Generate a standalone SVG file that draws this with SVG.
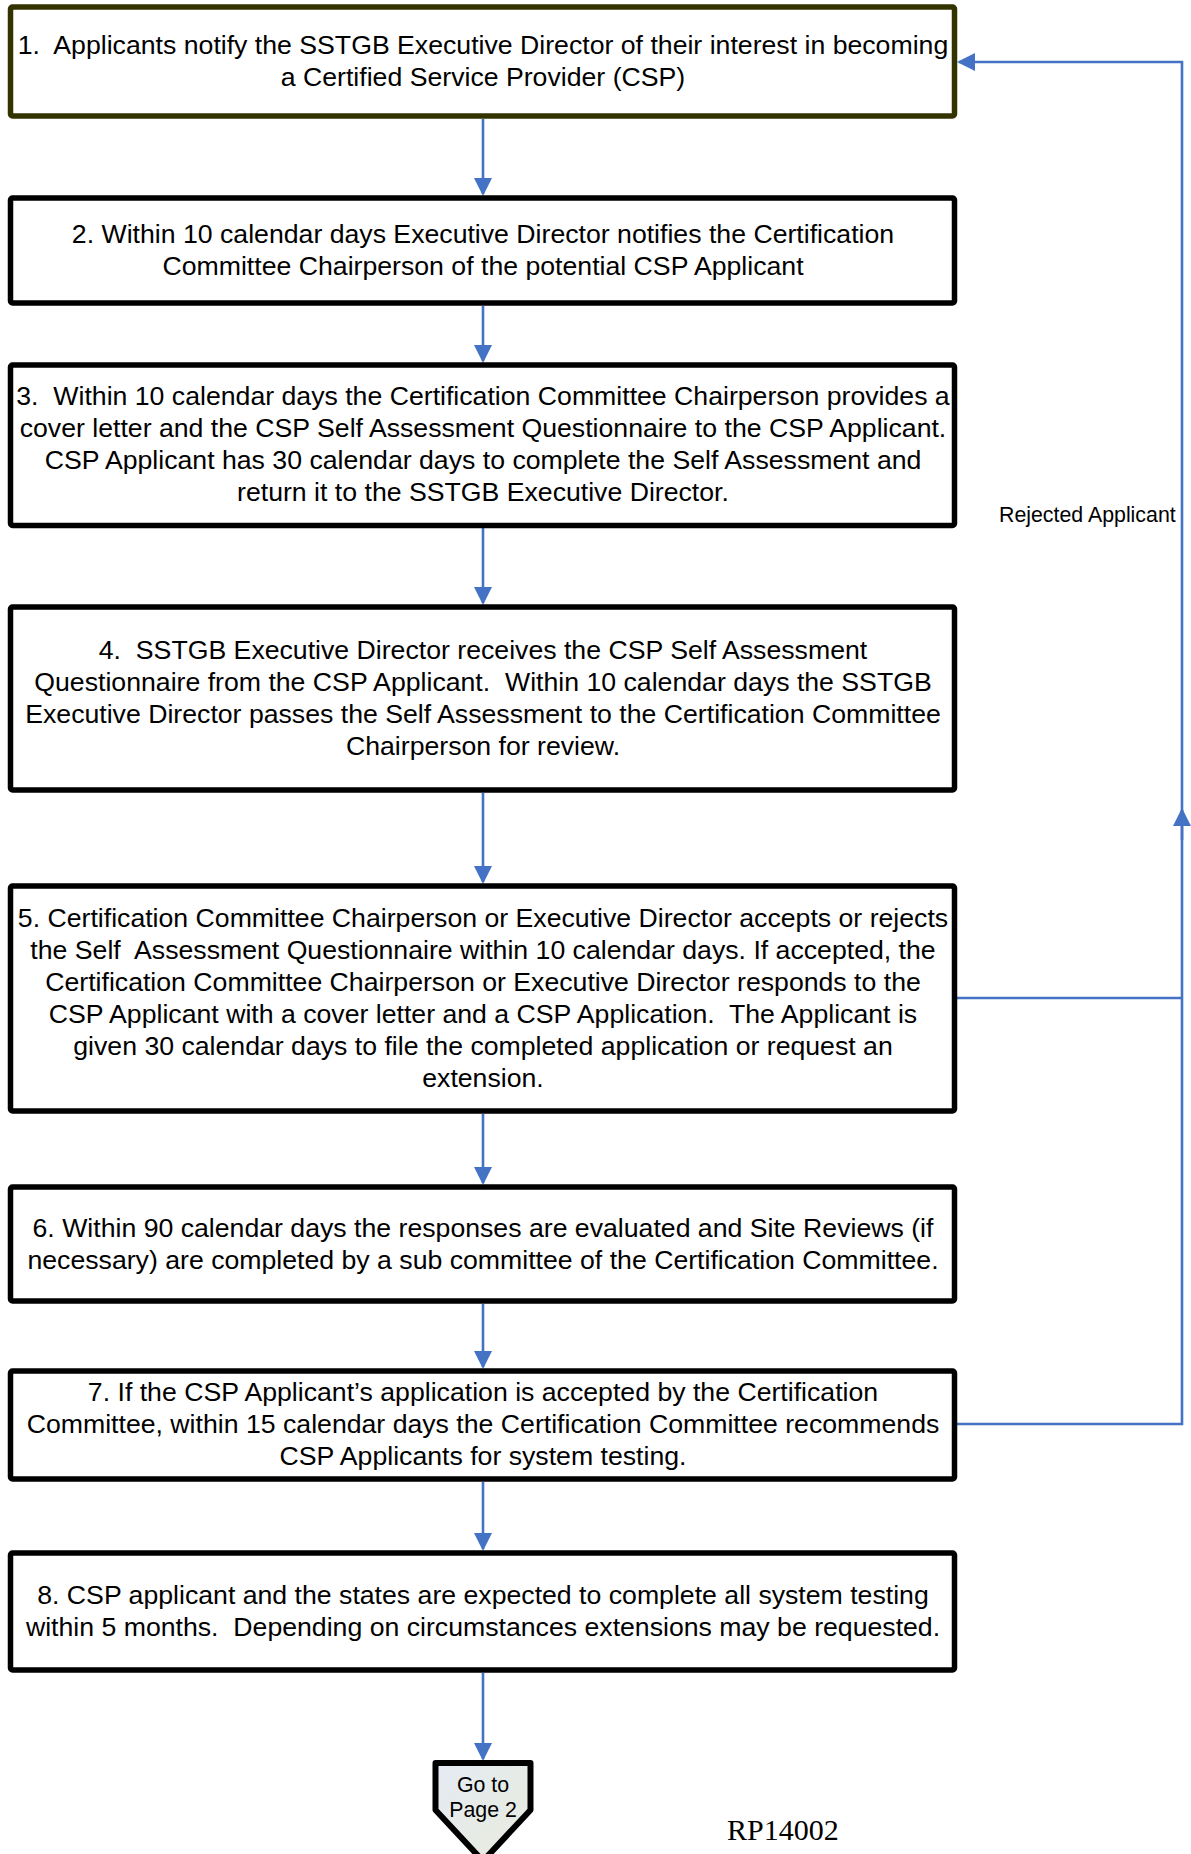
<svg xmlns="http://www.w3.org/2000/svg" width="1191" height="1854" viewBox="0 0 1191 1854">
<style>
  .box { fill: #ffffff; stroke: #000000; stroke-width: 5.5; stroke-linejoin: round; }
  .box1 { stroke: #333300; }
  .t { font-family: "Liberation Sans", Arial, sans-serif; font-size: 26.67px; fill: #000000; text-anchor: middle; white-space: pre; }
  .lbl { font-family: "Liberation Sans", Arial, sans-serif; font-size: 21.33px; fill: #000000; white-space: pre; }
  .conn { fill: none; stroke: #4472C4; stroke-width: 2.6; }
  .rp { font-family: "Liberation Serif", "Times New Roman", serif; font-size: 30px; fill: #000000; }
</style>
<defs>
  <marker id="arr" markerUnits="userSpaceOnUse" markerWidth="18" markerHeight="18" refX="16" refY="9" orient="auto" viewBox="0 0 18 18">
    <path d="M0,0 L18,9 L0,18 z" fill="#4472C4"/>
  </marker>
  <linearGradient id="offg" x1="0" y1="0" x2="1" y2="1">
    <stop offset="0" stop-color="#e4ebf3"/>
    <stop offset="1" stop-color="#e9ebdc"/>
  </linearGradient>
</defs>

<g id="connectors">
  <path class="conn" d="M483,119 V194" marker-end="url(#arr)"/>
  <path class="conn" d="M483,306 V361" marker-end="url(#arr)"/>
  <path class="conn" d="M483,528 V603" marker-end="url(#arr)"/>
  <path class="conn" d="M483,793 V882" marker-end="url(#arr)"/>
  <path class="conn" d="M483,1114 V1183" marker-end="url(#arr)"/>
  <path class="conn" d="M483,1304 V1367" marker-end="url(#arr)"/>
  <path class="conn" d="M483,1482 V1549" marker-end="url(#arr)"/>
  <path class="conn" d="M483,1673 V1759" marker-end="url(#arr)"/>
  <path class="conn" d="M955,1424 H1182 V62 H959" marker-end="url(#arr)"/>
  <path class="conn" d="M955,998 H1182"/>
  <path class="conn" d="M1182,840 V810" marker-end="url(#arr)"/>
  <text class="lbl" x="999" y="522">Rejected Applicant</text>
</g>

<g id="node1">
  <rect class="box box1" x="10.5" y="7" width="944" height="109" rx="2"/>
  <text class="t" x="483" y="53.5">1.  Applicants notify the SSTGB Executive Director of their interest in becoming</text>
  <text class="t" x="483" y="85.5">a Certified Service Provider (CSP)</text>
</g>

<g id="node2">
  <rect class="box" x="10.5" y="198" width="944" height="105" rx="2"/>
  <text class="t" x="483" y="243">2. Within 10 calendar days Executive Director notifies the Certification</text>
  <text class="t" x="483" y="275">Committee Chairperson of the potential CSP Applicant</text>
</g>

<g id="node3">
  <rect class="box" x="10.5" y="365" width="944" height="160.5" rx="2"/>
  <text class="t" x="483" y="405">3.  Within 10 calendar days the Certification Committee Chairperson provides a</text>
  <text class="t" x="483" y="437">cover letter and the CSP Self Assessment Questionnaire to the CSP Applicant.</text>
  <text class="t" x="483" y="469">CSP Applicant has 30 calendar days to complete the Self Assessment and</text>
  <text class="t" x="483" y="501">return it to the SSTGB Executive Director.</text>
</g>

<g id="node4">
  <rect class="box" x="10.5" y="607" width="944" height="183" rx="2"/>
  <text class="t" x="483" y="658.5">4.  SSTGB Executive Director receives the CSP Self Assessment</text>
  <text class="t" x="483" y="690.5">Questionnaire from the CSP Applicant.  Within 10 calendar days the SSTGB</text>
  <text class="t" x="483" y="722.5">Executive Director passes the Self Assessment to the Certification Committee</text>
  <text class="t" x="483" y="754.5">Chairperson for review.</text>
</g>

<g id="node5">
  <rect class="box" x="10.5" y="886" width="944" height="225" rx="2"/>
  <text class="t" x="483" y="927">5. Certification Committee Chairperson or Executive Director accepts or rejects</text>
  <text class="t" x="483" y="959">the Self  Assessment Questionnaire within 10 calendar days. If accepted, the</text>
  <text class="t" x="483" y="991">Certification Committee Chairperson or Executive Director responds to the</text>
  <text class="t" x="483" y="1023">CSP Applicant with a cover letter and a CSP Application.  The Applicant is</text>
  <text class="t" x="483" y="1055">given 30 calendar days to file the completed application or request an</text>
  <text class="t" x="483" y="1087">extension.</text>
</g>

<g id="node6">
  <rect class="box" x="10.5" y="1187" width="944" height="114" rx="2"/>
  <text class="t" x="483" y="1236.5">6. Within 90 calendar days the responses are evaluated and Site Reviews (if</text>
  <text class="t" x="483" y="1268.5">necessary) are completed by a sub committee of the Certification Committee.</text>
</g>

<g id="node7">
  <rect class="box" x="10.5" y="1371" width="944" height="108" rx="2"/>
  <text class="t" x="483" y="1401">7. If the CSP Applicant’s application is accepted by the Certification</text>
  <text class="t" x="483" y="1433">Committee, within 15 calendar days the Certification Committee recommends</text>
  <text class="t" x="483" y="1465">CSP Applicants for system testing.</text>
</g>

<g id="node8">
  <rect class="box" x="10.5" y="1553" width="944" height="117" rx="2"/>
  <text class="t" x="483" y="1604">8. CSP applicant and the states are expected to complete all system testing</text>
  <text class="t" x="483" y="1636">within 5 months.  Depending on circumstances extensions may be requested.</text>
</g>

<g id="offpage">
  <path d="M435.5,1763 H530.5 V1810 L483,1861 L435.5,1810 Z" fill="url(#offg)" stroke="#000000" stroke-width="6" stroke-linejoin="round"/>
  <text class="lbl" x="483" y="1792" text-anchor="middle">Go to</text>
  <text class="lbl" x="483" y="1817" text-anchor="middle">Page 2</text>
</g>

<text class="rp" x="727" y="1840">RP14002</text>
</svg>
